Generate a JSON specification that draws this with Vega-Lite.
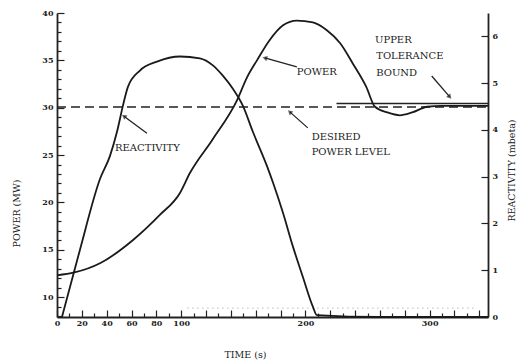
{
  "$schema": "https://vega.github.io/schema/vega-lite/v6.json",
  "width": 431,
  "height": 304,
  "autosize": "none",
  "padding": {"left": 57, "top": 13, "right": 43, "bottom": 46},
  "background": "white",
  "config": {
    "view": {"stroke": null},
    "font": "DejaVu Serif",
    "axis": {
      "domainColor": "#222",
      "domainWidth": 1.8,
      "tickColor": "#222",
      "tickWidth": 1.2,
      "tickCount": 200,
      "labelColor": "#222",
      "titleColor": "#222",
      "labelFont": "DejaVu Serif",
      "titleFont": "DejaVu Serif",
      "labelFontSize": 8,
      "labelFontWeight": "bold",
      "titleFontSize": 9.5,
      "titleFontWeight": "normal",
      "labelOverlap": false,
      "labelBound": false,
      "labelFlush": false,
      "grid": false
    }
  },
  "datasets": {
    "power": [
      {"t": 0, "P": 12.3}, {"t": 14, "P": 12.6}, {"t": 35, "P": 13.6}, {"t": 61, "P": 16.0},
      {"t": 83, "P": 18.7}, {"t": 99, "P": 21.0}, {"t": 107, "P": 23.1}, {"t": 125, "P": 26.6},
      {"t": 145, "P": 30.8}, {"t": 153, "P": 33.2}, {"t": 161, "P": 35.0}, {"t": 171, "P": 37.1},
      {"t": 182, "P": 38.7}, {"t": 193, "P": 39.2}, {"t": 206, "P": 39.0}, {"t": 217, "P": 38.2},
      {"t": 228, "P": 36.8}, {"t": 238, "P": 34.7}, {"t": 249, "P": 32.2}, {"t": 256, "P": 30.1},
      {"t": 266, "P": 29.5}, {"t": 276, "P": 29.2}, {"t": 286, "P": 29.5}, {"t": 298, "P": 30.1},
      {"t": 310, "P": 30.2}, {"t": 347, "P": 30.2}
    ],
    "reactivity": [
      {"t": 4, "R": 0}, {"t": 18.5, "R": 1.44}, {"t": 34.6, "R": 2.95}, {"t": 42.6, "R": 3.44},
      {"t": 48.3, "R": 3.96}, {"t": 53.1, "R": 4.52}, {"t": 57.1, "R": 4.92}, {"t": 66.8, "R": 5.27},
      {"t": 80.5, "R": 5.46}, {"t": 99, "R": 5.57}, {"t": 115, "R": 5.53}, {"t": 125.5, "R": 5.38},
      {"t": 133.5, "R": 5.16}, {"t": 141.6, "R": 4.88}, {"t": 149.6, "R": 4.52}, {"t": 157.7, "R": 3.96},
      {"t": 169, "R": 3.23}, {"t": 173.8, "R": 2.88}, {"t": 181.8, "R": 2.24}, {"t": 189.9, "R": 1.51},
      {"t": 197.9, "R": 0.86}, {"t": 206, "R": 0.22}, {"t": 209.2, "R": 0.04}, {"t": 260, "R": 0},
      {"t": 347, "R": 0}
    ],
    "tail": [{"t": 105, "R": 0.19}, {"t": 338, "R": 0.19}],
    "desired": [{"t": 0, "P": 30.08}, {"t": 347, "P": 30.08}],
    "upper": [{"t": 225, "P": 30.45}, {"t": 347, "P": 30.45}],
    "labels": [
      {"t": 46.7, "P": 25.7, "text": "REACTIVITY"},
      {"t": 193, "P": 33.8, "text": "POWER"},
      {"t": 205, "P": 26.9, "text": "DESIRED"},
      {"t": 205, "P": 25.3, "text": "POWER LEVEL"},
      {"t": 256, "P": 37.15, "text": "UPPER"},
      {"t": 257, "P": 35.45, "text": "TOLERANCE"},
      {"t": 257, "P": 33.7, "text": "BOUND"}
    ],
    "arrows": [
      {"id": "r", "t": 72.4, "P": 27.3, "t2": 53.9, "P2": 29.1},
      {"id": "p", "t": 193.1, "P": 34.3, "t2": 167.3, "P2": 35.25},
      {"id": "d", "t": 201.9, "P": 27.87, "t2": 187.4, "P2": 29.56},
      {"id": "u", "t": 301.7, "P": 33.35, "t2": 316.2, "P2": 31.14}
    ]
  },
  "layer": [
    {
      "layer": [
        {
          "data": {"name": "desired"},
          "mark": {"type": "line", "color": "#222", "strokeWidth": 1.6, "strokeDash": [9, 5]},
          "encoding": {
            "x": {"field": "t", "type": "quantitative", "scale": {"domain": [0, 347], "nice": false},
              "axis": {
                "title": "TIME (s)", "titleX": 188, "titleY": 32, "tickCount": 200, "format": "d",
                "labelOverlap": false,
                "values": [0,10,20,30,40,50,60,70,80,90,100,110,120,130,140,150,160,170,180,190,200,210,220,230,240,250,260,270,280,290,300,310,320,330,340],
                "labelExpr": "datum.value % 100 === 0 || (datum.value < 100 && datum.value % 20 === 0) ? format(datum.value, 'd') : ''",
                "tickSize": {"condition": {"test": "datum.value % 20 === 0", "value": -7}, "value": -4},
                "labelPadding": 9
              }
            },
            "y": {"field": "P", "type": "quantitative", "scale": {"domain": [7.9, 40], "nice": false, "zero": false},
              "axis": {
                "title": "POWER (MW)", "titleX": -36, "titleY": 200, "titleAngle": -90, "tickCount": 200, "format": "d",
                "labelOverlap": false,
                "values": [8,9,10,11,12,13,14,15,16,17,18,19,20,21,22,23,24,25,26,27,28,29,30,31,32,33,34,35,36,37,38,39,40],
                "labelExpr": "datum.value % 5 === 0 ? datum.label : ''",
                "tickSize": {"condition": {"test": "datum.value % 5 === 0", "value": -7}, "value": -4},
                "labelPadding": 11
              }
            }
          }
        },
        {
          "data": {"name": "upper"},
          "mark": {"type": "line", "color": "#222", "strokeWidth": 1.4},
          "encoding": {"x": {"field": "t", "type": "quantitative"}, "y": {"field": "P", "type": "quantitative"}}
        },
        {
          "data": {"name": "power"},
          "mark": {"type": "line", "color": "#1a1a1a", "strokeWidth": 1.8, "interpolate": "monotone"},
          "encoding": {"x": {"field": "t", "type": "quantitative"}, "y": {"field": "P", "type": "quantitative"}}
        },
        {
          "data": {"name": "labels"},
          "mark": {"type": "text", "align": "left", "baseline": "middle", "font": "DejaVu Serif", "fontSize": 10, "color": "#222"},
          "encoding": {"x": {"field": "t", "type": "quantitative"}, "y": {"field": "P", "type": "quantitative"}, "text": {"field": "text"}}
        },
        {
          "data": {"name": "arrows"},
          "mark": {"type": "rule", "color": "#222", "strokeWidth": 1.3},
          "encoding": {
            "x": {"field": "t", "type": "quantitative"}, "y": {"field": "P", "type": "quantitative"},
            "x2": {"field": "t2"}, "y2": {"field": "P2"}
          }
        },
        {
          "data": {"name": "arrows"},
          "transform": [{"filter": "datum.id === 'r'"}],
          "mark": {"type": "point", "shape": "triangle-up", "filled": true, "color": "#222", "size": 30, "angle": 306},
          "encoding": {"x": {"field": "t2", "type": "quantitative"}, "y": {"field": "P2", "type": "quantitative"}}
        },
        {
          "data": {"name": "arrows"},
          "transform": [{"filter": "datum.id === 'p'"}],
          "mark": {"type": "point", "shape": "triangle-up", "filled": true, "color": "#222", "size": 30, "angle": 286},
          "encoding": {"x": {"field": "t2", "type": "quantitative"}, "y": {"field": "P2", "type": "quantitative"}}
        },
        {
          "data": {"name": "arrows"},
          "transform": [{"filter": "datum.id === 'd'"}],
          "mark": {"type": "point", "shape": "triangle-up", "filled": true, "color": "#222", "size": 30, "angle": 312},
          "encoding": {"x": {"field": "t2", "type": "quantitative"}, "y": {"field": "P2", "type": "quantitative"}}
        },
        {
          "data": {"name": "arrows"},
          "transform": [{"filter": "datum.id === 'u'"}],
          "mark": {"type": "point", "shape": "triangle-up", "filled": true, "color": "#222", "size": 30, "angle": 139},
          "encoding": {"x": {"field": "t2", "type": "quantitative"}, "y": {"field": "P2", "type": "quantitative"}}
        }
      ]
    },
    {
      "layer": [
        {
          "data": {"name": "tail"},
          "mark": {"type": "line", "color": "#999", "strokeWidth": 1, "strokeDash": [1, 4]},
          "encoding": {
            "x": {"field": "t", "type": "quantitative"},
            "y": {"field": "R", "type": "quantitative", "scale": {"domain": [0, 6.5], "nice": false},
              "axis": {
                "orient": "right", "tickCount": 200, "format": "d", "labelOverlap": false,
                "title": "REACTIVITY (mbeta)", "titleAngle": -90, "titleX": 28, "titleY": 157,
                "values": [0,0.25,0.5,0.75,1,1.25,1.5,1.75,2,2.25,2.5,2.75,3,3.25,3.5,3.75,4,4.25,4.5,4.75,5,5.25,5.5,5.75,6,6.25,6.5],
                "labelExpr": "datum.value % 1 === 0 ? datum.label : ''",
                "tickSize": {"condition": {"test": "datum.value % 1 === 0", "value": -7}, "value": -4},
                "labelPadding": 11
              }
            }
          }
        },
        {
          "data": {"name": "reactivity"},
          "mark": {"type": "line", "color": "#1a1a1a", "strokeWidth": 1.8, "interpolate": "monotone"},
          "encoding": {"x": {"field": "t", "type": "quantitative"}, "y": {"field": "R", "type": "quantitative"}}
        }
      ]
    }
  ],
  "resolve": {"scale": {"y": "independent"}, "axis": {"y": "independent"}}
}
